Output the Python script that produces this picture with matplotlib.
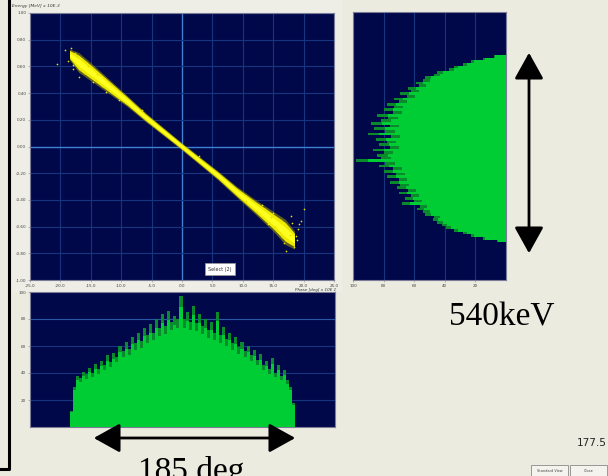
import matplotlib.pyplot as plt
import numpy as np
from matplotlib.patches import FancyArrowPatch, Rectangle
from matplotlib.lines import Line2D

# --- data ---
# scatter band (phase vs energy): centre line and half width
band_x = [-18.5, -17, -15, -12, -9, -6, -3, 0, 3, 6, 9, 12, 15, 17, 18.5]
band_y = [0.69, 0.63, 0.56, 0.45, 0.34, 0.22, 0.11, 0.0, -0.11, -0.22, -0.34, -0.45, -0.56, -0.64, -0.70]
band_hw = [0.03, 0.055, 0.05, 0.04, 0.03, 0.025, 0.022, 0.02, 0.022, 0.025, 0.03, 0.04, 0.055, 0.07, 0.05]

# stray points around the band ends
stray_x = [-19.2, -18.8, -18.0, -17.6, -16.9, -16.2, -15.8, -14.7, -13.9, -12.5, -20.5,
           -18.3, -17.9, -17.2, -16.6, -15.4, -14.2, -13.1, -11.6, -10.4,
           -6.5, 2.8, 10.5, 13.2, 14.1, 15.0, 15.6, 16.3, 16.8, 17.4, 17.9, 18.4, 19.0, 19.6, 20.1, 18.7, 17.1,
           12.4, 13.7, 14.6, 15.3, 16.0, 16.5, 17.7, 18.1, 18.9, 19.3]
stray_y = [0.72, 0.64, 0.58, 0.70, 0.52, 0.55, 0.63, 0.48, 0.54, 0.41, 0.62,
           0.74, 0.61, 0.68, 0.57, 0.60, 0.50, 0.45, 0.47, 0.35,
           0.27, -0.07, -0.41, -0.44, -0.58, -0.50, -0.63, -0.55, -0.72, -0.60, -0.52, -0.75, -0.62, -0.56, -0.47, -0.67, -0.78,
           -0.49, -0.47, -0.53, -0.60, -0.54, -0.68, -0.66, -0.57, -0.70, -0.58]

# energy histogram (right panel), counts from the top bin downwards
energy_edges = np.linspace(0.68, -0.72, 71)
energy_counts = [8, 15, 23, 28, 34, 37, 45, 47, 53, 54,
                 59, 57, 64, 62, 69, 65, 73, 70, 78, 73,
                 80, 74, 84, 77, 82, 88, 76, 86, 79, 90,
                 75, 85, 78, 83, 76, 87, 80, 84, 82, 98,
                 79, 83, 74, 80, 72, 78, 70, 76, 69, 71,
                 64, 70, 62, 66, 60, 68, 56, 58, 54, 53,
                 47, 48, 45, 42, 39, 34, 28, 23, 15, 6]

# phase histogram (bottom panel)
phase_edges = np.linspace(-18.5, 18.5, 75)
phase_counts = [12, 30, 38, 36, 41, 39, 44, 40, 47, 43, 49, 46,
                53, 48, 55, 52, 60, 56, 63, 58, 67, 62, 70, 64,
                73, 68, 76, 70, 80, 73, 84, 75, 86, 78, 82, 80,
                97, 80, 85, 78, 90, 77, 84, 75, 80, 72, 78, 70,
                85, 68, 74, 65, 70, 62, 67, 59, 63, 56, 60, 53,
                57, 50, 54, 46, 49, 43, 51, 40, 46, 38, 42, 35,
                30, 18]

phase_ticks = [-25.0, -20.0, -15.0, -10.0, -5.0, 0.0, 5.0, 10.0, 15.0, 20.0, 25.0]
energy_ticks = [1.0, 0.8, 0.6, 0.4, 0.2, 0.0, -0.2, -0.4, -0.6, -0.8, -1.0]
count_ticks = [100, 80, 60, 40, 20]

navy = '#00084a'
grid_c = '#17347e'
green = '#00cc33'
dark_green = '#0a8a2c'
bg = '#ecebdf'

W, H = 608, 476
fig = plt.figure(figsize=(6.08, 4.76), dpi=100, facecolor=bg)


def box(x0, y0, x1, y1):
    return [x0 / W, 1 - y1 / H, (x1 - x0) / W, (y1 - y0) / H]


def style(ax):
    ax.set_facecolor(navy)
    for s in ax.spines.values():
        s.set_color('#7c7c98')
        s.set_linewidth(0.8)
    ax.tick_params(length=1.5, width=0.4, color='#888888', labelsize=3, labelcolor='#444444', pad=1.2)


# light panel behind the main plot
fig.add_artist(Rectangle((12 / W, 1 - 292 / H), 330 / W, 292 / H, transform=fig.transFigure,
                         facecolor='#eeeee6', edgecolor='none', zorder=0))

# main scatter
ax = fig.add_axes(box(30, 13, 334, 280))
style(ax)
ax.set_xlim(-25, 25)
ax.set_ylim(-1, 1)
for t in phase_ticks:
    ax.axvline(t, color='#3f80d0' if t == 0 else grid_c, lw=1.0 if t == 0 else 0.8, zorder=1)
for t in energy_ticks:
    ax.axhline(t, color='#3f80d0' if t == 0 else grid_c, lw=1.0 if t == 0 else 0.8, zorder=1)
by = np.array(band_y)
bw = np.array(band_hw)
ax.fill_between(band_x, by - 1.35 * bw, by + 1.35 * bw, color='#a8a000', alpha=0.55, lw=0, zorder=2)
ax.fill_between(band_x, by - bw, by + bw, color='#eeea00', lw=0, zorder=2)
ax.fill_between(band_x, by - 0.5 * bw, by + 0.5 * bw, color='#ffff20', lw=0, zorder=3)
ax.scatter(stray_x, stray_y, s=1.5, color='#e8e000', lw=0, zorder=3)
ax.set_xticks(phase_ticks)
ax.set_xticklabels([f'{t:.1f}' for t in phase_ticks])
ax.set_yticks(energy_ticks)
ax.set_yticklabels([f'{t:.2f}' for t in energy_ticks])
ax.text(0.625, 0.04, 'Select (2)', transform=ax.transAxes, fontsize=3.5, ha='center', va='center',
        color='#333333', bbox=dict(boxstyle='square,pad=0.7', fc='white', ec='#999999', lw=0.5), zorder=5)
fig.text(12 / W, 1 - 6 / H, 'Energy [MeV] x 10E-3', fontsize=3.2, style='italic', color='#333333', va='center')
fig.text(336 / W, 1 - 289.5 / H, 'Phase [deg] x 10E 1', fontsize=3, style='italic', color='#333333',
         va='center', ha='right')

# energy histogram (right), bars grow leftwards from the right edge
ax2 = fig.add_axes(box(353, 12, 506, 280))
style(ax2)
ax2.set_xlim(100, 0)
ax2.set_ylim(-1, 1)
for t in count_ticks:
    ax2.axvline(t, color=grid_c, lw=0.8, zorder=1)
ax2.stairs(energy_counts, energy_edges, orientation='horizontal', fill=True, color=dark_green, zorder=2)
ax2.stairs(np.array(energy_counts) * 0.92, energy_edges, orientation='horizontal', fill=True, color=green, zorder=3)
ax2.set_xticks(count_ticks)
ax2.set_xticklabels([str(t) for t in count_ticks])
ax2.set_yticks([])

# phase histogram (bottom)
ax3 = fig.add_axes(box(30, 292, 335, 427))
style(ax3)
ax3.set_xlim(-25, 25)
ax3.set_ylim(0, 100)
for t in count_ticks[1:]:
    ax3.axhline(t, color='#2a56a6' if t == 80 else grid_c, lw=0.8, zorder=1)
ax3.stairs(phase_counts, phase_edges, fill=True, color=dark_green, zorder=2)
ax3.stairs(np.array(phase_counts) * 0.92, phase_edges, fill=True, color=green, zorder=3)
ax3.set_yticks(count_ticks)
ax3.set_yticklabels([str(t) for t in count_ticks])
ax3.set_xticks([])

# arrows and annotations
arrow_kw = dict(transform=fig.transFigure, arrowstyle='<|-|>,head_length=0.9,head_width=0.5',
                mutation_scale=18, color='black', lw=2)
fig.add_artist(FancyArrowPatch((529 / W, 1 - 50 / H), (529 / W, 1 - 256 / H), **arrow_kw))
fig.add_artist(FancyArrowPatch((91 / W, 1 - 438 / H), (298 / W, 1 - 438 / H), **arrow_kw))

serif = ['Liberation Serif', 'DejaVu Serif']
fig.text(449 / W, 1 - 326 / H, '540keV', fontsize=24, family=serif, va='baseline')
fig.text(138 / W, 1 - 480 / H, '185 deg', fontsize=24, family=serif, va='baseline')
fig.text(607 / W, 1 - 443 / H, '177.5', fontsize=7.5, ha='right', va='center', color='#222222')

# bracket on the left edge
fig.add_artist(Line2D([0, 9 / W, 9 / W], [1 - 469 / H, 1 - 469 / H, 1], transform=fig.transFigure,
                      color='black', lw=2.2))

# small buttons at bottom right
for x0, label in [(531, 'Standard View'), (570, 'Close')]:
    fig.add_artist(Rectangle((x0 / W, 0), 37 / W, 11 / H, transform=fig.transFigure,
                             facecolor='#f4f3ee', edgecolor='#8a8a8a', lw=0.6))
    fig.text((x0 + 18.5) / W, 5 / H, label, fontsize=2.5, ha='center', va='center', color='#444444')

fig.savefig('out.png', dpi=100, facecolor=bg)
